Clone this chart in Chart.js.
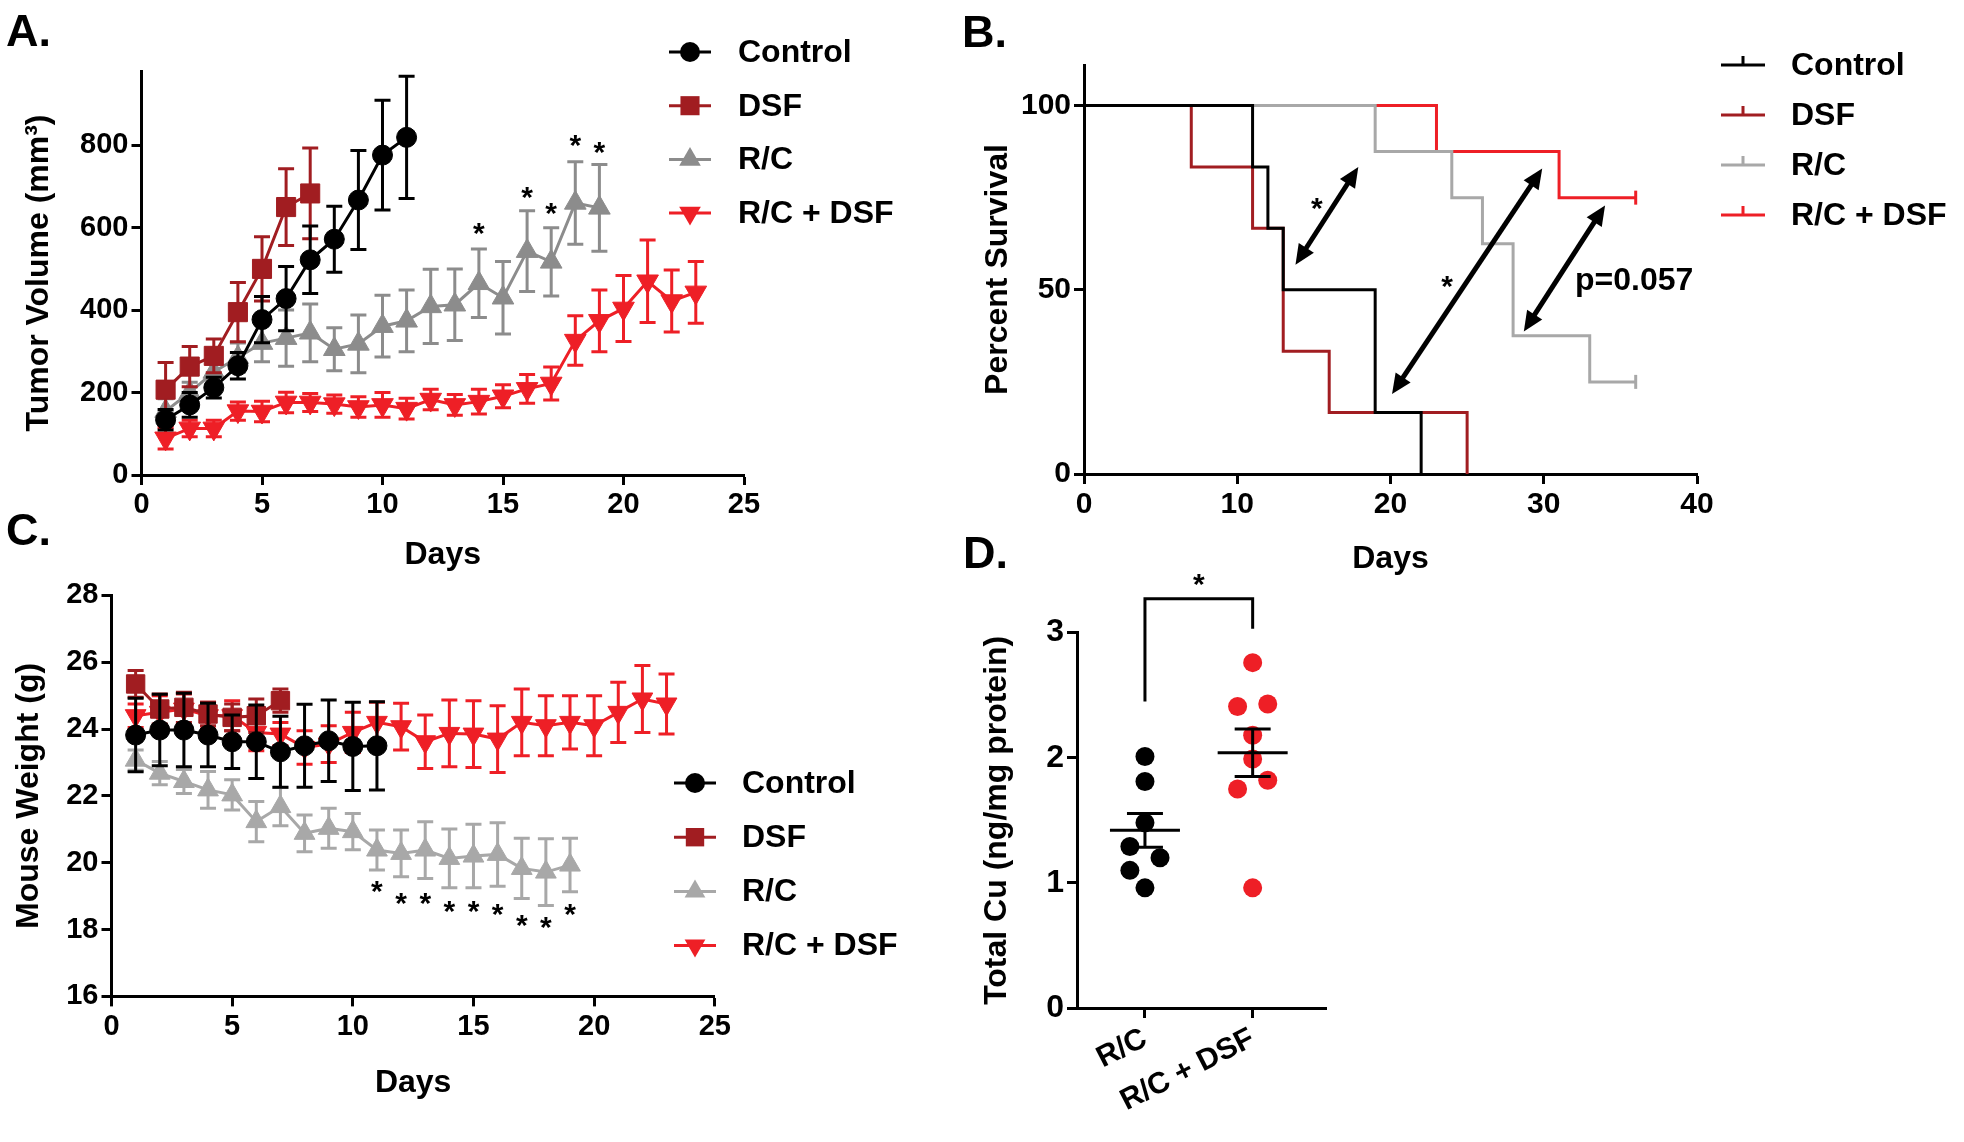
<!DOCTYPE html>
<html>
<head>
<meta charset="utf-8">
<script src="https://cdn.jsdelivr.net/npm/chart.js@4.4.1/dist/chart.umd.min.js"></script>
<style>
  html, body { margin: 0; padding: 0; background: #fff; }
  #page { position: relative; width: 1964px; height: 1142px; overflow: hidden; font-family: 'Liberation Sans', Arial, sans-serif; }
  canvas { position: absolute; }
  .tag { position: absolute; font-weight: bold; font-size: 45px; line-height: 45px; color: #000; }
</style>
</head>
<body>
<div id="page">
  <canvas id="chartA" width="960" height="600" style="left:0px;top:0px"></canvas>
  <canvas id="chartB" width="1004" height="600" style="left:960px;top:0px"></canvas>
  <canvas id="chartC" width="960" height="602" style="left:0px;top:540px"></canvas>
  <canvas id="chartD" width="420" height="602" style="left:960px;top:540px"></canvas>
  <div class="tag" style="left:6px;top:8px">A.</div>
  <div class="tag" style="left:962px;top:9px">B.</div>
  <div class="tag" style="left:6px;top:507px">C.</div>
  <div class="tag" style="left:963px;top:530px">D.</div>
</div>
<script>
const FONT = "'Liberation Sans', Arial, sans-serif";
const BLACK = '#000000';
const DSF_RED = '#a11d21';
const RC_GREY = '#8c8c8c';
const RC_GREY_LIGHT = '#a8a8a8';
const COMBO_RED = '#ee1f26';

const groups = ['Control', 'DSF', 'R/C', 'R/C + DSF'];
const days = [1, 2, 3, 4, 5, 6, 7, 8, 9, 10, 11, 12, 13, 14, 15, 16, 17, 18, 19, 20, 21, 22, 23];
const dayTicks = [0, 5, 10, 15, 20, 25];

// A: tumor volume (mm3), mean and SEM per day
const tumorTicks = [0, 200, 400, 600, 800];
const tumorControl = [134, 170, 212, 265, 377, 428, 522, 572, 667, 776, 819];
const tumorControlSem = [25, 30, 25, 32, 56, 78, 82, 80, 120, 133, 148];
const tumorDsf = [207, 263, 289, 395, 500, 650, 683];
const tumorDsfSem = [66, 49, 41, 72, 78, 93, 110];
const tumorRc = [155, 200, 250, 285, 320, 332, 345, 305, 318, 361, 374, 409, 413, 465, 430, 543, 517, 660, 648];
const tumorRcSem = [30, 25, 30, 35, 45, 68, 70, 52, 70, 75, 75, 90, 87, 83, 88, 98, 83, 100, 105];
const tumorCombo = [89, 113, 113, 155, 154, 176, 176, 172, 165, 170, 161, 183, 170, 178, 191, 209, 222, 326, 374, 404, 470, 422, 443];
const tumorComboSem = [26, 20, 20, 22, 25, 25, 22, 22, 25, 30, 25, 25, 25, 30, 28, 35, 40, 60, 75, 80, 100, 75, 75];
const tumorStarDays = [14, 16, 17, 18, 19];
const tumorStarAt = [603, 690, 651, 817, 799];

// B: Kaplan-Meier survival (%)
const kmDayTicks = [0, 10, 20, 30, 40];
const kmPctTicks = [0, 50, 100];
const kmControlDays = [0, 11, 12, 13, 19, 22];
const kmControlPct = [100, 83.3, 66.7, 50, 16.7, 0];
const kmDsfDays = [0, 7, 11, 13, 16, 25];
const kmDsfPct = [100, 83.3, 66.7, 33.3, 16.7, 0];
const kmRcDays = [0, 19, 24, 26, 28, 33, 36];
const kmRcPct = [100, 87.5, 75, 62.5, 37.5, 25, 25];
const kmComboDays = [0, 23, 31, 36];
const kmComboPct = [100, 87.5, 75, 75];
// comparison arrows [day1, pct1, day2, pct2]
const kmArrows = [[13.8, 56.8, 17.9, 83.3], [20.1, 21.7, 29.9, 82.9], [28.7, 38.7, 34.0, 72.9]];
const kmStars = [[15.2, 74], [23.7, 52.8]];
const kmPText = ['p=0.057', 35.9, 52.3];

// C: mouse weight (g)
const weightTicks = [16, 18, 20, 22, 24, 26, 28];
const weightControl = [23.82, 23.97, 23.97, 23.82, 23.62, 23.62, 23.32, 23.5, 23.65, 23.48, 23.5];
const weightControlSem = [1.1, 1.07, 1.1, 0.95, 0.8, 1.1, 1.06, 1.24, 1.22, 1.32, 1.32];
const weightDsf = [25.35, 24.6, 24.65, 24.45, 24.35, 24.4, 24.85];
const weightDsfSem = [0.4, 0.45, 0.45, 0.35, 0.4, 0.5, 0.35];
const weightRc = [23.07, 22.68, 22.43, 22.18, 22.03, 21.23, 21.68, 20.88, 21.03, 20.93, 20.38, 20.28, 20.38, 20.13, 20.2, 20.25, 19.83, 19.72, 19.93];
const weightRcSem = [0.3, 0.35, 0.36, 0.55, 0.45, 0.6, 0.57, 0.55, 0.6, 0.54, 0.6, 0.7, 0.85, 0.88, 0.95, 0.95, 0.9, 1.0, 0.8];
const weightCombo = [24.4, 24.5, 24.6, 24.4, 24.4, 23.9, 23.85, 23.45, 23.55, 23.9, 24.2, 24.07, 23.62, 23.87, 23.85, 23.7, 24.2, 24.1, 24.2, 24.1, 24.5, 24.9, 24.75];
const weightComboSem = [0.35, 0.5, 0.45, 0.4, 0.45, 0.55, 0.35, 0.5, 0.55, 0.6, 0.6, 0.7, 0.8, 1.0, 1.0, 1.0, 1.0, 0.9, 0.8, 0.9, 0.9, 1.0, 0.9];
const weightStarDays = [11, 12, 13, 14, 15, 16, 17, 18, 19];
const weightStarAt = [19.35, 18.98, 18.98, 18.76, 18.76, 18.65, 18.33, 18.27, 18.65];

// D: total Cu (ng/mg protein)
const cuTicks = [0, 1, 2, 3];
const cuGroups = ['R/C', 'R/C + DSF'];
const cuRc = [2.01, 1.81, 1.48, 1.29, 1.20, 1.10, 0.96];
const cuRcOffset = [0, 0, 0, -0.14, 0.14, -0.14, 0];
const cuCombo = [2.76, 2.41, 2.43, 2.18, 1.99, 1.75, 1.82, 0.96];
const cuComboOffset = [0, -0.14, 0.14, 0, 0, -0.14, 0.14, 0];
const cuMean = [1.42, 2.04];
const cuSem = [0.135, 0.19];

// ---------- helpers ----------
const series = vals => vals.map((v, i) => ({ x: days[i], y: v }));
const pairs = (xs, ys) => xs.map((d, i) => ({ x: d, y: ys[i] }));

function drawMarker(ctx, style, rot, x, y, r, color) {
  ctx.fillStyle = color;
  ctx.beginPath();
  if (style === 'circle') {
    ctx.arc(x, y, r, 0, Math.PI * 2);
  } else if (style === 'rect') {
    const s = r * Math.SQRT1_2;
    ctx.rect(x - s, y - s, 2 * s, 2 * s);
  } else if (style === 'triangle') {
    let a = (rot || 0) * Math.PI / 180;
    ctx.moveTo(x + Math.sin(a) * r, y - Math.cos(a) * r);
    a += Math.PI * 2 / 3;
    ctx.lineTo(x + Math.sin(a) * r, y - Math.cos(a) * r);
    a += Math.PI * 2 / 3;
    ctx.lineTo(x + Math.sin(a) * r, y - Math.cos(a) * r);
    ctx.closePath();
  }
  ctx.fill();
}

const sideLegend = {
  id: 'sideLegend',
  afterDraw(chart, args, o) {
    if (!o || o.x === undefined) return;
    const ctx = chart.ctx;
    ctx.save();
    chart.data.datasets.forEach((ds, i) => {
      const y = o.y + i * o.dy;
      ctx.strokeStyle = ds.borderColor;
      ctx.lineWidth = 3;
      ctx.beginPath();
      ctx.moveTo(o.x - o.half, y);
      ctx.lineTo(o.x + o.half, y);
      if (o.km) { ctx.moveTo(o.x, y); ctx.lineTo(o.x, y - 9); }
      ctx.stroke();
      if (!o.km) drawMarker(ctx, ds.pointStyle, ds.pointRotation, o.x, y, ds.pointRadius, ds.backgroundColor);
      ctx.fillStyle = BLACK;
      ctx.font = 'bold 32px ' + FONT;
      ctx.textAlign = 'left';
      ctx.textBaseline = 'middle';
      ctx.fillText(ds.label, o.textX, y + 1);
    });
    ctx.restore();
  }
};

const errorBars = {
  id: 'errorBars',
  beforeDatasetDraw(chart, args, o) {
    const ds = chart.data.datasets[args.index];
    if (!ds.sem) return;
    const { ctx, scales: { x, y } } = chart;
    ctx.save();
    ctx.strokeStyle = ds.borderColor;
    ctx.lineWidth = 3;
    ds.data.forEach((p, i) => {
      const px = x.getPixelForValue(p.x);
      const top = y.getPixelForValue(p.y + ds.sem[i]);
      const bot = y.getPixelForValue(p.y - ds.sem[i]);
      ctx.beginPath();
      ctx.moveTo(px, top); ctx.lineTo(px, bot);
      ctx.moveTo(px - o.cap, top); ctx.lineTo(px + o.cap, top);
      ctx.moveTo(px - o.cap, bot); ctx.lineTo(px + o.cap, bot);
      ctx.stroke();
    });
    ctx.restore();
  }
};

function arrowHead(ctx, x, y, ang, len, half) {
  ctx.beginPath();
  ctx.moveTo(x, y);
  ctx.lineTo(x - len * Math.cos(ang) + half * Math.sin(ang), y - len * Math.sin(ang) - half * Math.cos(ang));
  ctx.lineTo(x - len * Math.cos(ang) - half * Math.sin(ang), y - len * Math.sin(ang) + half * Math.cos(ang));
  ctx.closePath();
  ctx.fill();
}

const notes = {
  id: 'notes',
  afterDatasetsDraw(chart, args, o) {
    const { ctx, scales: { x, y } } = chart;
    ctx.save();
    ctx.fillStyle = BLACK;
    ctx.strokeStyle = BLACK;
    ctx.textAlign = 'center';
    (o.stars || []).forEach(s => {
      const size = o.starSize || 30;
      ctx.font = 'bold ' + size + 'px ' + FONT;
      ctx.textBaseline = 'alphabetic';
      ctx.fillText('*', x.getPixelForValue(s[0]), y.getPixelForValue(s[1]) + 0.55 * size);
    });
    (o.texts || []).forEach(t => {
      ctx.font = 'bold 32px ' + FONT;
      ctx.textBaseline = 'middle';
      ctx.fillText(t[0], x.getPixelForValue(t[1]), y.getPixelForValue(t[2]));
    });
    (o.arrows || []).forEach(a => {
      const x1 = x.getPixelForValue(a[0]), y1 = y.getPixelForValue(a[1]);
      const x2 = x.getPixelForValue(a[2]), y2 = y.getPixelForValue(a[3]);
      const ang = Math.atan2(y2 - y1, x2 - x1);
      const len = 20;
      ctx.lineWidth = 5;
      ctx.beginPath();
      ctx.moveTo(x1 + len * 0.8 * Math.cos(ang), y1 + len * 0.8 * Math.sin(ang));
      ctx.lineTo(x2 - len * 0.8 * Math.cos(ang), y2 - len * 0.8 * Math.sin(ang));
      ctx.stroke();
      arrowHead(ctx, x2, y2, ang, len, 9);
      arrowHead(ctx, x1, y1, ang + Math.PI, len, 9);
    });
    if (o.stats) {
      ctx.lineWidth = 3;
      o.stats.mean.forEach((m, i) => {
        const c = i + 1;
        const yl = y.getPixelForValue(m);
        const yt = y.getPixelForValue(m + o.stats.sem[i]);
        const yb = y.getPixelForValue(m - o.stats.sem[i]);
        ctx.beginPath();
        ctx.moveTo(x.getPixelForValue(c - 0.325), yl); ctx.lineTo(x.getPixelForValue(c + 0.325), yl);
        ctx.moveTo(x.getPixelForValue(c), yt); ctx.lineTo(x.getPixelForValue(c), yb);
        ctx.moveTo(x.getPixelForValue(c - 0.167), yt); ctx.lineTo(x.getPixelForValue(c + 0.167), yt);
        ctx.moveTo(x.getPixelForValue(c - 0.167), yb); ctx.lineTo(x.getPixelForValue(c + 0.167), yb);
        ctx.stroke();
      });
    }
    if (o.bracket) {
      const b = o.bracket;
      ctx.lineWidth = 3;
      ctx.beginPath();
      ctx.moveTo(x.getPixelForValue(b[0]), y.getPixelForValue(b[1]));
      ctx.lineTo(x.getPixelForValue(b[0]), y.getPixelForValue(b[4]));
      ctx.lineTo(x.getPixelForValue(b[2]), y.getPixelForValue(b[4]));
      ctx.lineTo(x.getPixelForValue(b[2]), y.getPixelForValue(b[3]));
      ctx.stroke();
    }
    ctx.restore();
  }
};

function axis(o) {
  const ax = {
    type: 'linear', min: o.min, max: o.max,
    ticks: {
      color: BLACK, padding: 3,
      autoSkip: false, maxRotation: o.rot || 0, minRotation: o.rot || 0,
      font: { family: FONT, size: o.tickSize || 29, weight: 'bold' }
    },
    grid: { drawOnChartArea: false, tickLength: 10, tickWidth: 3, tickColor: BLACK },
    border: { color: BLACK, width: 3 },
    title: {
      display: !!o.title, text: o.title, color: BLACK,
      font: { family: FONT, size: 32, weight: 'bold' }, padding: o.titlePad || 0
    },
    afterFit: o.fit
  };
  if (o.labels) {
    ax.afterBuildTicks = s => { s.ticks = o.labels.map((l, i) => ({ value: i + 1 })); };
    ax.ticks.callback = v => o.labels[v - 1];
  } else {
    ax.afterBuildTicks = s => { s.ticks = o.ticks.map(v => ({ value: v })); };
  }
  return ax;
}

function lineSet(label, data, sem, color, style, radius, rotation) {
  return {
    label, data, sem,
    borderColor: color, backgroundColor: color, borderWidth: 3,
    pointStyle: style, pointRadius: radius, pointRotation: rotation || 0,
    pointBackgroundColor: color, pointBorderColor: color, pointBorderWidth: 1,
    tension: 0
  };
}

function baseOptions(pad, plugins, scales) {
  return {
    responsive: false, animation: false, devicePixelRatio: 1, events: [],
    layout: { padding: pad, autoPadding: false },
    plugins: Object.assign({ legend: { display: false }, tooltip: { enabled: false } }, plugins),
    scales
  };
}

// ---------- A ----------
new Chart(document.getElementById('chartA'), {
  type: 'line',
  data: {
    datasets: [
      lineSet(groups[0], series(tumorControl), tumorControlSem, BLACK, 'circle', 10),
      lineSet(groups[1], series(tumorDsf), tumorDsfSem, DSF_RED, 'rect', 13.5),
      lineSet(groups[2], series(tumorRc), tumorRcSem, RC_GREY, 'triangle', 12.5),
      lineSet(groups[3], series(tumorCombo), tumorComboSem, COMBO_RED, 'triangle', 12.5, 180)
    ]
  },
  options: baseOptions({ left: 0, top: 71, right: 216, bottom: 0 }, {
    errorBars: { cap: 8 },
    sideLegend: { x: 690, y: 52, dy: 53.7, half: 21, textX: 738 },
    notes: { stars: tumorStarDays.map((d, i) => [d, tumorStarAt[i]]) }
  }, {
    x: axis({ min: 0, max: 25, ticks: dayTicks, title: 'Days', titlePad: { top: 0, bottom: 26 }, fit: s => { s.height = 125; } }),
    y: axis({ min: 0, max: 980, ticks: tumorTicks, title: 'Tumor Volume (mm³)', titlePad: { top: 20, bottom: 0 }, fit: s => { s.width = 141.5; } })
  }),
  plugins: [errorBars, sideLegend, notes]
});

// ---------- B ----------
function kmSet(label, data, color) {
  const last = data.length - 1;
  return {
    label, data, stepped: 'before',
    borderColor: color, backgroundColor: color, borderWidth: 3,
    pointStyle: 'line', pointRotation: 90,
    pointRadius: c => (c.dataIndex === last && data[last].y > 0 ? 7 : 0),
    pointBorderColor: color, pointBorderWidth: 3
  };
}

new Chart(document.getElementById('chartB'), {
  type: 'line',
  data: {
    datasets: [
      kmSet(groups[0], pairs(kmControlDays, kmControlPct), BLACK),
      kmSet(groups[1], pairs(kmDsfDays, kmDsfPct), DSF_RED),
      kmSet(groups[2], pairs(kmRcDays, kmRcPct), RC_GREY_LIGHT),
      kmSet(groups[3], pairs(kmComboDays, kmComboPct), COMBO_RED)
    ]
  },
  options: baseOptions({ left: 0, top: 65, right: 267, bottom: 0 }, {
    sideLegend: { x: 783, y: 65, dy: 50, half: 22, textX: 831, km: true },
    notes: { arrows: kmArrows, stars: kmStars, texts: [kmPText] }
  }, {
    x: axis({ min: 0, max: 40, ticks: kmDayTicks, tickSize: 30, title: 'Days', titlePad: { top: 0, bottom: 22 }, fit: s => { s.height = 126; } }),
    y: axis({ min: 0, max: 111, ticks: kmPctTicks, tickSize: 30, title: 'Percent Survival', titlePad: { top: 19, bottom: 0 }, fit: s => { s.width = 124; } })
  }),
  plugins: [sideLegend, notes]
});

// ---------- C ----------
new Chart(document.getElementById('chartC'), {
  type: 'line',
  data: {
    datasets: [
      lineSet(groups[0], series(weightControl), weightControlSem, BLACK, 'circle', 10),
      lineSet(groups[1], series(weightDsf), weightDsfSem, DSF_RED, 'rect', 13),
      lineSet(groups[2], series(weightRc), weightRcSem, RC_GREY_LIGHT, 'triangle', 12),
      lineSet(groups[3], series(weightCombo), weightComboSem, COMBO_RED, 'triangle', 12, 180)
    ]
  },
  options: baseOptions({ left: 0, top: 55.4, right: 245.2, bottom: 0 }, {
    errorBars: { cap: 8 },
    sideLegend: { x: 695, y: 243, dy: 54.2, half: 21, textX: 742 },
    notes: { stars: weightStarDays.map((d, i) => [d, weightStarAt[i]]) }
  }, {
    x: axis({ min: 0, max: 25, ticks: dayTicks, title: 'Days', titlePad: { top: 0, bottom: 40 }, fit: s => { s.height = 145.6; } }),
    y: axis({ min: 16, max: 28, ticks: weightTicks, title: 'Mouse Weight (g)', titlePad: { top: 10, bottom: 0 }, fit: s => { s.width = 111.5; } })
  }),
  plugins: [errorBars, sideLegend, notes]
});

// ---------- D ----------
function dotSet(label, vals, offs, pos, color) {
  return {
    label, data: vals.map((v, i) => ({ x: pos + offs[i], y: v })),
    showLine: false, pointStyle: 'circle', pointRadius: 9.5,
    pointBackgroundColor: color, pointBorderColor: color, pointBorderWidth: 0,
    borderColor: color, backgroundColor: color
  };
}

new Chart(document.getElementById('chartD'), {
  type: 'scatter',
  data: {
    datasets: [
      dotSet(cuGroups[0], cuRc, cuRcOffset, 1, BLACK),
      dotSet(cuGroups[1], cuCombo, cuComboOffset, 2, COMBO_RED)
    ]
  },
  options: baseOptions({ left: 0, top: 92.6, right: 54, bottom: 0 }, {
    notes: {
      stats: { mean: cuMean, sem: cuSem },
      bracket: [1, 2.45, 2, 3.03, 3.27],
      stars: [[1.5, 3.44]]
    }
  }, {
    x: axis({ min: 0.369, max: 2.681, labels: cuGroups, rot: 27, tickSize: 30, fit: s => { s.height = 134; } }),
    y: axis({ min: 0, max: 3, ticks: cuTicks, tickSize: 32, title: 'Total Cu (ng/mg protein)', titlePad: { top: 17.5, bottom: 0 }, fit: s => { s.width = 117; } })
  }),
  plugins: [notes]
});
</script>
</body>
</html>
